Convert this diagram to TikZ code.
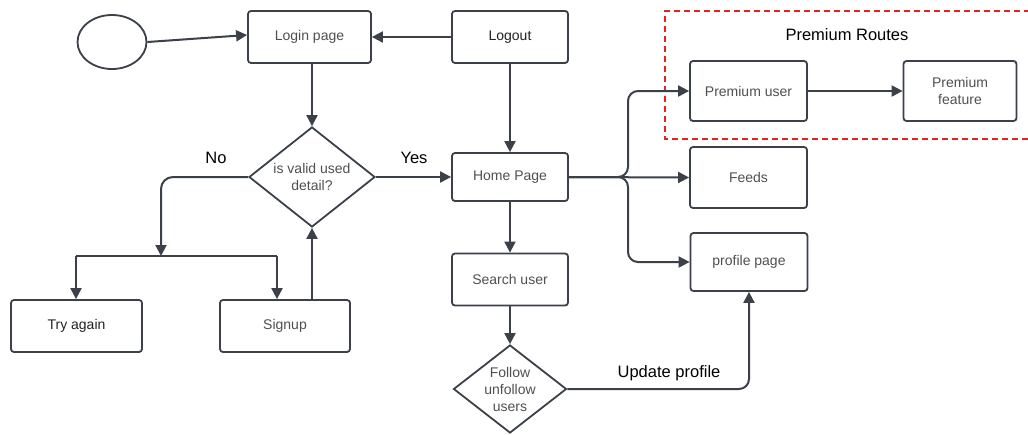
\documentclass[tikz,border=0pt]{standalone}
\usepackage{fontspec}
\setmainfont{Liberation Sans}
\usepackage{xcolor}
\usepackage{tikz}
\usetikzlibrary{shapes.geometric,arrows.meta}
\definecolor{linegray}{HTML}{3B4049}
\definecolor{boxtext}{HTML}{505050}
\definecolor{darktext}{HTML}{222222}
\definecolor{routered}{HTML}{E02424}
\tikzset{
  box/.style={draw=linegray,line width=1.8pt,rounded corners=3pt,inner sep=0pt,
    align=center,text=boxtext,font=\fontsize{14}{17}\selectfont},
  decision/.style={draw=linegray,line width=1.8pt,diamond,aspect=1.26,inner sep=0pt,
    align=center,text=boxtext,font=\fontsize{14}{17}\selectfont},
  arr/.style={draw=linegray,line width=2pt,-{Triangle[length=11pt,width=11pt]}},
  plain/.style={draw=linegray,line width=2pt},
  lbl/.style={text=black,font=\fontsize{16.5}{19}\selectfont}
}
\begin{document}
\begin{tikzpicture}[x=1pt,y=-1pt]
\fill[white] (0,0) rectangle (1028,434);
\useasboundingbox (0,0) rectangle (1028,434);
\draw[routered,line width=2pt,dash pattern=on 6pt off 4pt] (1030,11) -- (665,11) -- (665,139) -- (1030,139);
\node[lbl] (premroutes) at (847,35) {Premium Routes};
\node[draw=linegray,line width=1.8pt,ellipse,minimum width=69pt,minimum height=54pt,inner sep=0pt] (start) at (112,42) {};
\node[box,minimum width=123pt,minimum height=52pt] (login) at (309.5,37) {Login page};
\node[box,minimum width=116pt,minimum height=52pt,text=darktext] (logout) at (510,37) {Logout};
\node[decision,minimum width=126pt,minimum height=100pt] (valid) at (312,177) {is valid used\\detail?};
\node[box,minimum width=116pt,minimum height=48pt] (home) at (510,177) {Home Page};
\node[box,minimum width=131pt,minimum height=52pt,text=darktext] (tryagain) at (76.5,326) {Try again};
\node[box,minimum width=130pt,minimum height=52pt] (signup) at (285,326) {Signup};
\node[box,minimum width=116pt,minimum height=52pt] (search) at (510,279.5) {Search user};
\node[decision,aspect=1.28,minimum width=113pt,minimum height=88pt] (follow) at (510,389) {Follow\\unfollow\\users};
\node[box,minimum width=117pt,minimum height=60pt] (premuser) at (748.5,91) {Premium user};
\node[box,minimum width=113pt,minimum height=60pt] (premfeat) at (960,91) {Premium\\feature};
\node[box,minimum width=117pt,minimum height=61pt] (feeds) at (748.5,177.5) {Feeds};
\node[box,minimum width=117pt,minimum height=58pt] (profile) at (749,262) {profile page};
\coordinate (nojunc) at (161,256);
\coordinate (tryjunc) at (76,256);
\coordinate (signjunc) at (277,256);
\coordinate (homejunc) at (628,177);
\node[lbl] (nolbl) at (216,158) {No};
\node[lbl] (yeslbl) at (414,158) {Yes};
\node[lbl] (updlbl) at (669,373) {Update profile};
\draw[arr] (start.east) -- ([yshift=2pt]login.west);
\draw[arr] (logout.west) -- (login.east);
\draw[arr] (valid.north |- login.south) -- (valid.north);
\draw[arr] (logout.south) -- (home.north);
\draw[arr] (valid.east) -- (home.west);
\draw[arr,rounded corners=12pt] (valid.west) -| (nojunc);
\draw[plain] (tryjunc) -- (signjunc);
\draw[arr] (tryjunc) -- (tryjunc |- tryagain.north);
\draw[arr] (signjunc) -- (signjunc |- signup.north);
\draw[arr] (valid.south |- signup.north) -- (valid.south);
\draw[arr] (home.south) -- (search.north);
\draw[arr] (search.south) -- (follow.north);
\draw[arr,rounded corners=10pt] (follow.east) -| (profile.south);
\draw[arr,rounded corners=10pt] (home.east) -| (homejunc |- premuser.west) -- (premuser.west);
\draw[arr] (home.east) -- (feeds.west);
\draw[arr,rounded corners=10pt] (home.east) -| (homejunc |- profile.west) -- (profile.west);
\draw[arr] (premuser.east) -- (premfeat.west);
\end{tikzpicture}
\end{document}
